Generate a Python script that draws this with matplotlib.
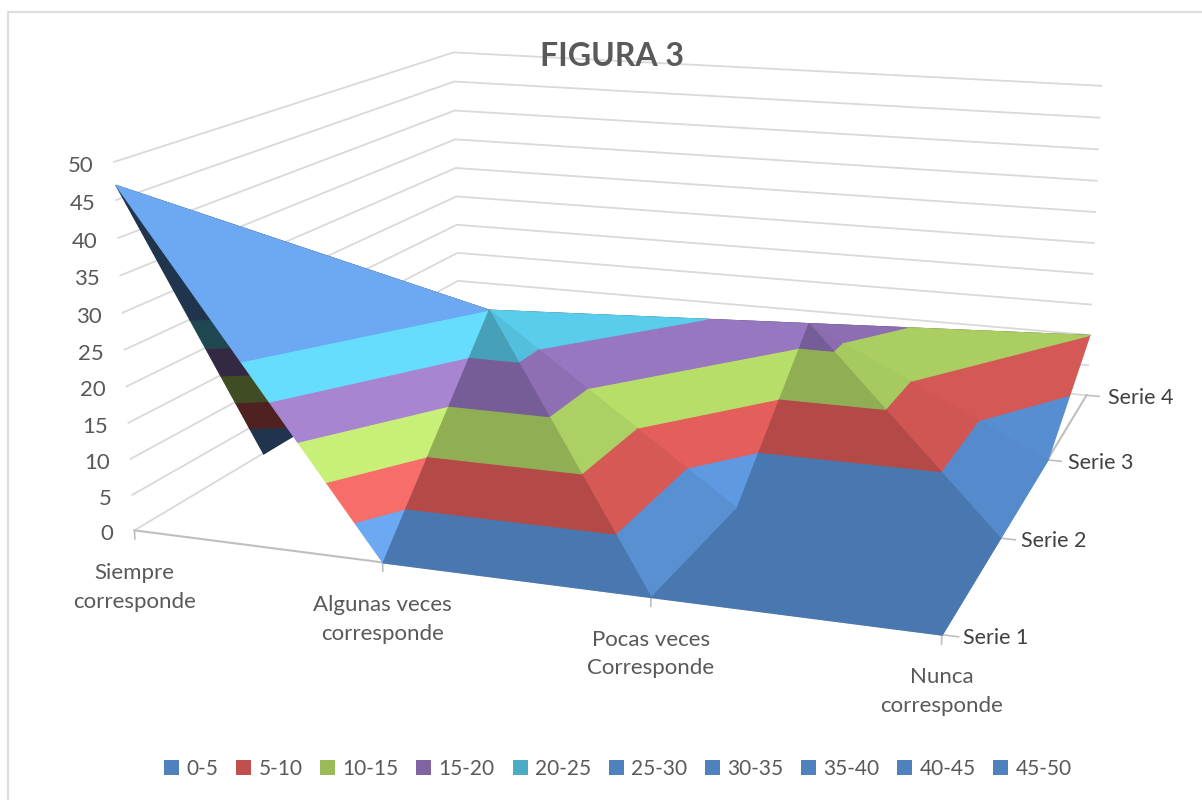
import numpy as np
import matplotlib
matplotlib.use('Agg')
import matplotlib.pyplot as plt
from matplotlib.colors import to_rgb
from matplotlib.lines import Line2D
from matplotlib.patches import Patch
from mpl_toolkits.mplot3d import proj3d
from mpl_toolkits.mplot3d.art3d import Poly3DCollection

plt.rcParams['font.family'] = ['Lato', 'DejaVu Sans']

categories = ['Siempre\ncorresponde', 'Algunas veces\ncorresponde', 'Pocas veces\nCorresponde', 'Nunca\ncorresponde']
series_names = ['Serie 1', 'Serie 2', 'Serie 3', 'Serie 4']
serie1 = [47, 0, 0, 0]
serie2 = [0, 25, 0, 0]
serie3 = [0, 0, 17.5, 0]
serie4 = [0, 0, 0, 10]
z_ticks = [0, 5, 10, 15, 20, 25, 30, 35, 40, 45, 50]
band_labels = ['0-5', '5-10', '10-15', '15-20', '20-25', '25-30', '30-35', '35-40', '40-45', '45-50']
band_colors = ['#4F81BD', '#C0504D', '#9BBB59', '#8064A2', '#4BACC6',
               '#4F81BD', '#4F81BD', '#4F81BD', '#4F81BD', '#4F81BD']

Z = np.array([serie1, serie2, serie3, serie4], dtype=float)
GRID = '#D9D9D9'
AXIS = '#BFBFBF'
TEXT = '#595959'


def clip_band(tri, lo, hi):
    # cut a triangle down to the part between two heights
    poly = list(tri)
    for limit, sign in ((lo, 1), (hi, -1)):
        out = []
        for a, b in zip(poly, poly[1:] + poly[:1]):
            da = sign * (a[2] - limit)
            db = sign * (b[2] - limit)
            if da >= 0:
                out.append(a)
            if da * db < 0:
                t = da / (da - db)
                out.append(tuple(np.array(a) + t * (np.array(b) - np.array(a))))
        poly = out
        if not poly:
            break
    return poly


def lit(col, tri):
    # flat shading that follows the slope of the face, like Excel's lit surface
    p = np.array(tri)
    A = np.c_[p[:, 0], p[:, 1], np.ones(3)]
    dzdx, dzdy, _ = np.linalg.solve(A, p[:, 2])
    c = np.array(to_rgb(col))
    if dzdx > 1:
        return c * 0.41
    if dzdx > -1:
        return c * 0.93
    f = 1.0 - 0.0045 * dzdx + 0.00025 * dzdy ** 2
    return np.clip(c * min(f, 1.22) + max(f - 1.22, 0) * 0.3, 0, 1)


def cell_triangles(i, j):
    # the diagonal joins the higher pair of corners
    c = lambda r, k: (k, r, Z[r, k])
    if Z[i, j] + Z[i + 1, j + 1] >= Z[i, j + 1] + Z[i + 1, j]:
        tris = [(c(i, j), c(i + 1, j), c(i + 1, j + 1)), (c(i, j), c(i, j + 1), c(i + 1, j + 1))]
    else:
        tris = [(c(i, j), c(i, j + 1), c(i + 1, j)), (c(i, j + 1), c(i + 1, j + 1), c(i + 1, j))]
    return sorted(tris, key=lambda t: -sum(v[1] for v in t))


fig = plt.figure(figsize=(12.02, 8), dpi=100)
side = 1081.9
ax = fig.add_axes([98.4 / 1202, -47 / 800, side / 1202, side / 800], projection='3d')
ax.set_axis_off()
ax.patch.set_alpha(0)
ax.computed_zorder = False
ax.view_init(elev=13.847, azim=-70.717, roll=-0.059)
ax.set_proj_type('persp', focal_length=0.4)
ax.set_box_aspect((1, 0.972, 0.456))
ax.set_xlim(0, 3, view_margin=0)
ax.set_ylim(0, 3, view_margin=0)
ax.set_zlim(0, 50, view_margin=0)
ax.set_xticks([])
ax.set_yticks([])
ax.set_zticks([])

nx = len(categories) - 1
ny = len(series_names) - 1

# walls and floor
for z in z_ticks:
    ax.plot([0, 0, nx], [0, ny, ny], [z, z, z], color=GRID, lw=1.3, zorder=1, clip_on=False)
ax.plot([0, nx, nx], [0, 0, ny], [0, 0, 0], color=AXIS, lw=1.5, zorder=2, clip_on=False)
for k in range(nx + 1):
    ax.plot([k, k], [0, 0], [0, -1.2], color=AXIS, lw=1.2, zorder=2, clip_on=False)
for r in range(ny + 1):
    ax.plot([nx, nx + 0.055], [r, r], [0, 0], color=AXIS, lw=1.2, zorder=2, clip_on=False)

# surface, back to front; bands of the same colour are drawn as one piece
n_flat = band_colors.index(band_colors[0], 1)
band_edges = z_ticks[:n_flat + 1] + [z_ticks[-1]]
order = 3
for i in range(ny - 1, -1, -1):
    for j in range(nx):
        for tri in cell_triangles(i, j):
            for b in range(len(band_edges) - 1):
                poly = clip_band(tri, band_edges[b], band_edges[b + 1])
                if len(poly) < 3:
                    continue
                rgb = lit(band_colors[b], tri)
                pc = Poly3DCollection([poly], facecolor=rgb, edgecolor=rgb, linewidth=0.8, zorder=order)
                ax.add_collection3d(pc, autolim=False)
                order += 1


def label(x, y, z, s, dx, dy, **kw):
    # text anchored on a 3D point, moved by a pixel offset
    xp, yp, _ = proj3d.proj_transform(x, y, z, ax.get_proj())
    ax.annotate(s, (xp, yp), xytext=(dx, dy), textcoords='offset pixels', annotation_clip=False,
                zorder=500, **kw)


for z in z_ticks:
    label(0, 0, z, str(z), -21, -4, ha='right', va='center', fontsize=16, color=TEXT)
for k, name in enumerate(categories):
    label(k, 0, 0, name, 0, -57, ha='center', va='center', fontsize=16, color=TEXT, linespacing=1.55)
for r, name in enumerate(series_names):
    label(nx, r, 0, name, 21, -3, ha='left', va='center', fontsize=15.5, color='#404040')

fig.text(612 / 1202, 1 - 57 / 800, 'FIGURA 3', ha='center', va='center', fontsize=23,
         fontweight='bold', color=TEXT)

handles = [Patch(facecolor=c, edgecolor='none') for c in band_colors]
fig.legend(handles, band_labels, loc='center', bbox_to_anchor=(618 / 1202, 1 - 769 / 800), ncol=10,
           frameon=False, fontsize=15, labelcolor=TEXT, handlelength=0.72, handleheight=0.72,
           handletextpad=0.35, columnspacing=0.85)

# chart frame: only the top and left edges are in the picture
fig.add_artist(Line2D([8 / 1202, 8 / 1202, 1], [0, 1 - 12 / 800, 1 - 12 / 800], color='#DDDDDD', lw=1.6))

fig.savefig('out.png', dpi=100)
